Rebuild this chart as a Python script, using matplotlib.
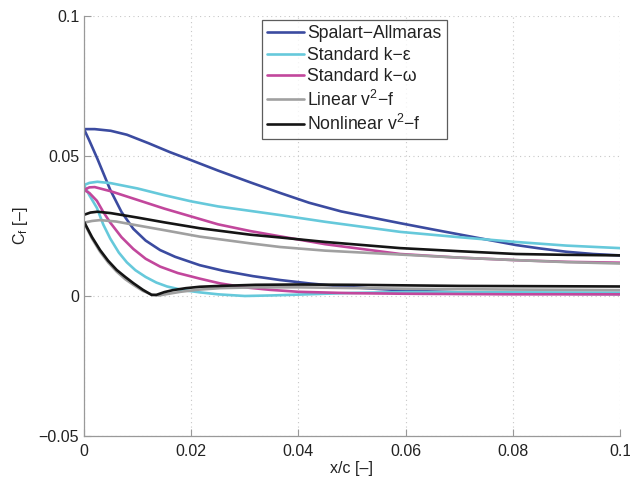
import matplotlib
matplotlib.use("Agg")
import matplotlib.pyplot as plt

plt.rcParams['font.family'] = ['Liberation Sans', 'DejaVu Sans']
plt.rcParams['mathtext.fontset'] = 'custom'
plt.rcParams['mathtext.rm'] = 'Liberation Sans'

MINUS = "\u2212"
# ---- data (x/c, Cf) : upper and lower branches for each model ----
labels = ["Spalart" + MINUS + "Allmaras", "Standard k" + MINUS + "\u03b5", "Standard k" + MINUS + "\u03c9",
          r"Linear $\mathregular{v^2}$" + MINUS + "f", r"Nonlinear $\mathregular{v^2}$" + MINUS + "f"]
colors = ["#3b4ba0", "#66c9db", "#c2479c", "#a0a0a0", "#151515"]

sa_up_x = [0, 0.002, 0.005, 0.008, 0.012, 0.016, 0.02, 0.025, 0.031, 0.0366, 0.042, 0.048,
           0.054, 0.059, 0.065, 0.07, 0.075, 0.0806, 0.085, 0.09, 0.095, 0.1]
sa_up_y = [0.0596, 0.0596, 0.0590, 0.0576, 0.0546, 0.0514, 0.0485, 0.0448, 0.0406, 0.0368, 0.0333, 0.0302,
           0.0279, 0.0260, 0.0238, 0.0220, 0.0202, 0.0182, 0.0170, 0.0158, 0.0150, 0.0145]
sa_lo_x = [0, 0.001, 0.0025, 0.0049, 0.007, 0.0092, 0.0115, 0.0142, 0.017, 0.0216, 0.026, 0.0315,
           0.0366, 0.042, 0.048, 0.055, 0.062, 0.07, 0.08, 0.09, 0.1]
sa_lo_y = [0.0596, 0.0555, 0.0490, 0.0379, 0.0300, 0.0240, 0.0198, 0.0164, 0.0140, 0.0110, 0.0090, 0.0071,
           0.0057, 0.0045, 0.0034, 0.0025, 0.0018, 0.0013, 0.0010, 0.0008, 0.0007]

ke_up_x = [0, 0.001, 0.0025, 0.005, 0.01, 0.015, 0.02, 0.025, 0.031, 0.0366, 0.045, 0.059, 0.07,
           0.0806, 0.09, 0.1]
ke_up_y = [0.0396, 0.0404, 0.0408, 0.0403, 0.0384, 0.0360, 0.0338, 0.0320, 0.0304, 0.0289, 0.0265, 0.0229,
           0.0210, 0.0193, 0.0180, 0.0171]
ke_lo_x = [0, 0.001, 0.0024, 0.0036, 0.0049, 0.0065, 0.008, 0.0096, 0.0115, 0.0135, 0.0155, 0.0185,
           0.0216, 0.025, 0.03, 0.035, 0.04, 0.05, 0.06, 0.08, 0.1]
ke_lo_y = [0.0396, 0.0360, 0.0315, 0.0255, 0.0205, 0.0155, 0.0120, 0.0092, 0.0068, 0.0048, 0.0034, 0.0021,
           0.0013, 0.0006, 0.0000, 0.0002, 0.0005, 0.0011, 0.0014, 0.0013, 0.0012]

kw_up_x = [0, 0.001, 0.002, 0.005, 0.01, 0.015, 0.02, 0.025, 0.031, 0.0366, 0.045, 0.059, 0.07,
           0.0806, 0.09, 0.1]
kw_up_y = [0.0379, 0.0388, 0.0389, 0.0374, 0.0343, 0.0312, 0.0284, 0.0256, 0.0232, 0.0213, 0.0185, 0.0150,
           0.0137, 0.0128, 0.0122, 0.0119]
kw_lo_x = [0, 0.001, 0.0024, 0.0036, 0.0049, 0.007, 0.0092, 0.0115, 0.0142, 0.0175, 0.0216, 0.0254,
           0.03, 0.0347, 0.040, 0.05, 0.06, 0.08, 0.1]
kw_lo_y = [0.0379, 0.0368, 0.0340, 0.0300, 0.0262, 0.0210, 0.0168, 0.0133, 0.0105, 0.0082, 0.0062, 0.0045,
           0.0031, 0.0022, 0.0015, 0.0010, 0.0008, 0.0006, 0.0006]

lv_up_x = [0, 0.0015, 0.003, 0.006, 0.01, 0.015, 0.0216, 0.031, 0.0366, 0.045, 0.059, 0.07, 0.0806,
           0.09, 0.1]
lv_up_y = [0.0262, 0.0268, 0.0271, 0.0266, 0.0252, 0.0235, 0.0212, 0.0188, 0.0175, 0.0162, 0.0148, 0.0137,
           0.0128, 0.0121, 0.0116]
lv_lo_x = [0, 0.0015, 0.003, 0.0045, 0.0061, 0.0077, 0.0092, 0.011, 0.0128, 0.014, 0.0155, 0.018,
           0.0216, 0.0254, 0.032, 0.04, 0.06, 0.08, 0.1]
lv_lo_y = [0.0262, 0.0205, 0.0158, 0.0120, 0.0087, 0.0060, 0.0040, 0.0018, 0.0004, 0.0002, 0.0007, 0.0015,
           0.0023, 0.0028, 0.0031, 0.0031, 0.0026, 0.0023, 0.0021]

nv_up_x = [0, 0.0012, 0.0025, 0.005, 0.01, 0.015, 0.0216, 0.031, 0.0366, 0.045, 0.059, 0.07, 0.0806,
           0.09, 0.1]
nv_up_y = [0.0290, 0.0298, 0.0301, 0.0296, 0.0280, 0.0263, 0.0242, 0.0219, 0.0209, 0.0193, 0.0171, 0.0160,
           0.0150, 0.0147, 0.0145]
nv_lo_x = [0, 0.0015, 0.003, 0.0045, 0.0061, 0.0077, 0.0092, 0.011, 0.0126, 0.0135, 0.015, 0.0166,
           0.019, 0.0216, 0.0254, 0.032, 0.04, 0.05, 0.07, 0.1]
nv_lo_y = [0.0265, 0.0210, 0.0164, 0.0126, 0.0093, 0.0068, 0.0046, 0.0022, 0.0004, 0.0004, 0.0014, 0.0021,
           0.0028, 0.0033, 0.0036, 0.0040, 0.0041, 0.0040, 0.0036, 0.0034]

series = [(sa_up_x, sa_up_y, sa_lo_x, sa_lo_y),
          (ke_up_x, ke_up_y, ke_lo_x, ke_lo_y),
          (kw_up_x, kw_up_y, kw_lo_x, kw_lo_y),
          (lv_up_x, lv_up_y, lv_lo_x, lv_lo_y),
          (nv_up_x, nv_up_y, nv_lo_x, nv_lo_y)]

xticks = [0, 0.02, 0.04, 0.06, 0.08, 0.1]
xticklabels = ["0", "0.02", "0.04", "0.06", "0.08", "0.1"]
yticks = [-0.05, 0, 0.05, 0.1]
yticklabels = [MINUS + "0.05", "0", "0.05", "0.1"]

fig = plt.figure(figsize=(6.3, 4.8), dpi=100)
ax = fig.add_axes([84/630, 44/480, 536/630, 420/480])

for (ux, uy, lx, ly), c, lab in zip(series, colors, labels):
    ax.plot(ux, uy, color=c, lw=1.9, label=lab, solid_capstyle='round', solid_joinstyle='round')
    ax.plot(lx, ly, color=c, lw=1.9, solid_capstyle='round', solid_joinstyle='round')

ax.set_xlim(0, 0.1)
ax.set_ylim(-0.05, 0.1)
ax.set_xticks(xticks)
ax.set_xticklabels(xticklabels)
ax.set_yticks(yticks)
ax.set_yticklabels(yticklabels)
ax.grid(True, linestyle=(0, (1, 3)), color='#c8c8c8', linewidth=0.8)
for s in ['top', 'right']:
    ax.spines[s].set_visible(False)
for s in ['left', 'bottom']:
    ax.spines[s].set_color('#999999')
    ax.spines[s].set_linewidth(0.9)
ax.tick_params(direction='in', length=5, color='#999999', labelsize=11.5, labelcolor='#222222')
ax.tick_params(axis='x', pad=5.5)
ax.tick_params(axis='y', pad=3.5)

ax.set_xlabel("x/c [\u2013]", fontsize=11.5, color='#222222', labelpad=2)
ax.set_ylabel(r"C$_\mathregular{f}$ [" + "\u2013]", fontsize=11.5, color='#222222', labelpad=6)

leg = ax.legend(loc='upper left', bbox_to_anchor=(0.332, 0.9905), fontsize=12.7, frameon=True,
                fancybox=False, edgecolor='#333333', handlelength=2.1, handletextpad=0.17,
                labelspacing=0.25, borderpad=0.3, borderaxespad=0)
leg.get_frame().set_linewidth(0.9)
for t in leg.get_texts():
    t.set_color('#222222')

fig.savefig("out.png", dpi=100)
